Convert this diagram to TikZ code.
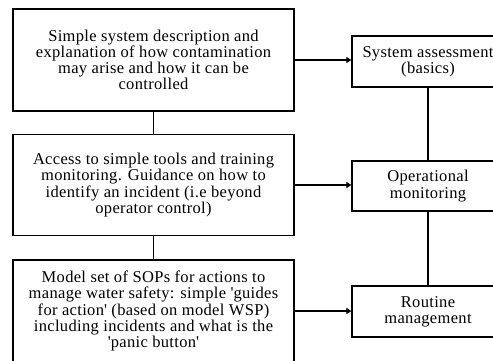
\documentclass[tikz,border=0pt]{standalone}
\usepackage{fontspec}
\setmainfont{Liberation Serif}[LetterSpace=2]
\usetikzlibrary{arrows.meta}

\begin{document}
\begin{tikzpicture}[x=1pt, y=-1pt,
    box/.style={draw, line width=1.3pt, align=center, inner sep=0pt,
                font=\fontsize{16.5}{16.2}\selectfont},
    leftbox/.style={box, minimum width=281, minimum height=102},
    rightbox/.style={box, minimum width=152, minimum height=51},
    link/.style={line width=1.3pt},
    flow/.style={link, -{Triangle[length=5pt,width=6pt]}}]
  \useasboundingbox (0,0) rectangle (493,360);
  \clip (0,0) rectangle (493,360);
  % left column: what the operator is given
  \node[leftbox] (sysdesc) at (153.5,60) {Simple system description and\\
    explanation of how contamination\\ may arise and how it can be\\ controlled};
  \node[leftbox, minimum height=101] (tools) at (153.5,185) {Access to simple tools and training\\
    monitoring. Guidance on how to\\ identify an incident (i.e beyond\\ operator control)};
  \node[leftbox] (sops) at (153.5,311) {Model set of SOPs for actions to\\
    manage water safety: simple \textquotesingle guides\\ for action\textquotesingle{} (based on model WSP)\\
    including incidents and what is the\\ \textquotesingle panic button\textquotesingle};
  % right column: what it supports
  \node[rightbox] (assess) at (428,61.5) {System assessment\\ (basics)};
  \node[rightbox, minimum height=50] (opmon) at (428,186) {Operational\\ monitoring};
  \node[rightbox] (routine) at (428,311.5) {Routine\\ management};
  \foreach \a/\b in {sysdesc/tools,tools/sops,assess/opmon,opmon/routine}{
    \draw[link] (\a.south) -- (\b.north); }
  \foreach \a/\b in {sysdesc/assess,tools/opmon,sops/routine}{
    \draw[flow] (\a.east) -- (\a.east -| \b.west); }
\end{tikzpicture}
\end{document}
